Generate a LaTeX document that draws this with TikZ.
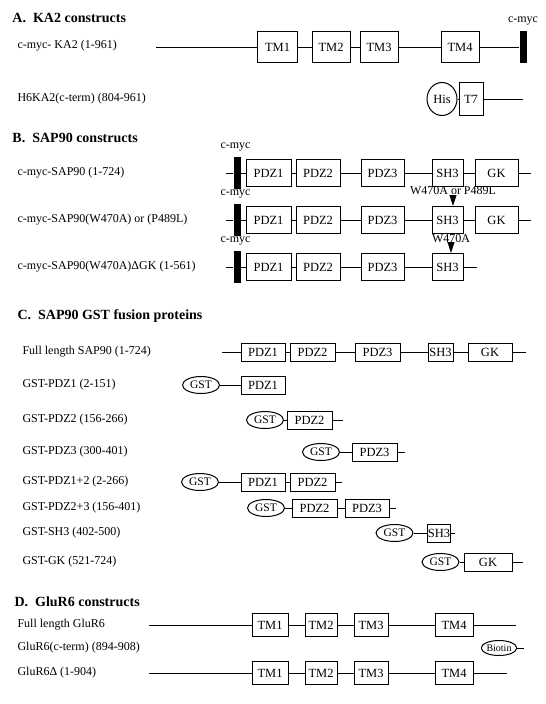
\documentclass[tikz,border=0pt]{standalone}
\usepackage{fontspec}
\setmainfont{Liberation Serif}
\usetikzlibrary{arrows.meta,shapes.geometric,positioning}

\begin{document}
\begin{tikzpicture}[x=1pt,y=-1pt,line width=1pt,
  ttl/.style={anchor=west,inner sep=0pt,font=\fontsize{14}{16}\selectfont\bfseries},
  lbl/.style={anchor=west,inner sep=0pt,font=\fontsize{12}{14}\selectfont},
  tag/.style={inner sep=0pt,font=\fontsize{12}{14}\selectfont},
  dom/.style={draw,fill=white,inner sep=0pt,font=\fontsize{12.5}{14}\selectfont},
  tmbox/.style={dom,minimum height=31pt},
  sapbox/.style={dom,minimum height=27pt},
  gstbox/.style={dom,minimum height=18pt},
  glubox/.style={dom,minimum height=23pt},
  tagbar/.style={fill=black,inner sep=0pt,minimum width=7pt,minimum height=32pt},
  gst/.style={draw,fill=white,ellipse,inner sep=0pt,minimum width=37pt,minimum height=17pt,font=\fontsize{11.5}{13}\selectfont},
  mutarrow/.style={-{Triangle[length=11pt,width=7pt]}}]
  \fill[white] (0,0) rectangle (546,704);
  \useasboundingbox (0,0) rectangle (546,704);

  % A. KA2 constructs
  \node[ttl] (ta) at (12,18) {A.\ \ KA2 constructs};
  \node[lbl] (la1) at (17,46) {c-myc- KA2 (1-961)};
  \node[lbl] (la2) at (17,99) {H6KA2(c-term) (804-961)};
  \coordinate (a1s) at (156,47);
  \node[tmbox,minimum width=40pt] (a1tm1) at (277.5,47) {TM1};
  \node[tmbox,minimum width=38pt] (a1tm2) at (331,47) {TM2};
  \node[tmbox,minimum width=38pt] (a1tm3) at (379,47) {TM3};
  \node[tmbox,minimum width=38pt] (a1tm4) at (460,47) {TM4};
  \node[tagbar] (a1myc) at (523,47) {};
  \node[tag,above=5pt of a1myc.north] (a1myclbl) {c-myc};
  \draw (a1s) -- (a1tm1) -- (a1tm2) -- (a1tm3) -- (a1tm4) -- (a1myc);
  % His tag and T7
  \node[draw,fill=white,ellipse,inner sep=0pt,minimum width=30pt,minimum height=33pt,
        font=\fontsize{12.5}{14}\selectfont] (a2his) at (442,99) {His};
  \node[dom,minimum width=24pt,minimum height=33pt] (a2t7) at (471,99) {T7};
  \coordinate (a2e) at (523,99);
  \draw (a2his) -- (a2t7) -- (a2e);

  % B. SAP90 constructs
  \node[ttl] (tb) at (12,138) {B.\ \ SAP90 constructs};
  \node[lbl] (lb1) at (17,173) {c-myc-SAP90 (1-724)};
  \node[lbl] (lb2) at (17,220) {c-myc-SAP90(W470A) or (P489L)};
  \node[lbl] (lb3) at (17,267) {c-myc-SAP90(W470A)ΔGK (1-561)};
  \foreach \r/\y in {1/173,2/220,3/267}{
    \coordinate (b\r s) at (226,\y);
    \node[tagbar] (b\r myc) at (237,\y) {};
    \node[tag,anchor=south west] (b\r myclbl) at ([xshift=-13pt,yshift=5pt]b\r myc.north west) {c-myc};
    \node[sapbox,minimum width=45pt] (b\r pdz1) at (268.5,\y) {PDZ1};
    \node[sapbox,minimum width=44pt] (b\r pdz2) at (318,\y) {PDZ2};
    \node[sapbox,minimum width=43pt] (b\r pdz3) at (382.5,\y) {PDZ3};
    \node[sapbox,minimum width=31pt] (b\r sh3) at (447.5,\y) {SH3};
  }
  \foreach \r/\y in {1/173,2/220}{
    \node[sapbox,minimum width=43pt] (b\r gk) at (496.5,\y) {GK};
    \coordinate (b\r e) at (531,\y);
    \draw (b\r s) -- (b\r myc) -- (b\r pdz1) -- (b\r pdz2) -- (b\r pdz3) -- (b\r sh3) -- (b\r gk) -- (b\r e);
  }
  \coordinate (b3e) at (477,267);
  \draw (b3s) -- (b3myc) -- (b3pdz1) -- (b3pdz2) -- (b3pdz3) -- (b3sh3) -- (b3e);
  % point mutations in SH3
  \node[tag] (mut2) at (453,191) {W470A or P489L};
  \node[tag] (mut3) at (451,239) {W470A};
  \draw[mutarrow] (mut2.south) -- (mut2.south |- b2sh3.north);
  \draw[mutarrow] (mut3.south) -- (mut3.south |- b3sh3.north);

  % C. SAP90 GST fusion proteins
  \node[ttl] (tc) at (17,316) {C.\ \ SAP90 GST fusion proteins};
  \node[lbl] (lc1) at (22,352) {Full length SAP90 (1-724)};
  \node[lbl] (lc2) at (22,385) {GST-PDZ1 (2-151)};
  \node[lbl] (lc3) at (22,420) {GST-PDZ2 (156-266)};
  \node[lbl] (lc4) at (22,452) {GST-PDZ3 (300-401)};
  \node[lbl] (lc5) at (22,482) {GST-PDZ1+2 (2-266)};
  \node[lbl] (lc6) at (22,508) {GST-PDZ2+3 (156-401)};
  \node[lbl] (lc7) at (22,533) {GST-SH3 (402-500)};
  \node[lbl] (lc8) at (22,562) {GST-GK (521-724)};
  % full length
  \coordinate (c1s) at (222,352);
  \node[gstbox,minimum width=44pt] (c1pdz1) at (263,352) {PDZ1};
  \node[gstbox,minimum width=45pt] (c1pdz2) at (312.5,352) {PDZ2};
  \node[gstbox,minimum width=45pt] (c1pdz3) at (377.5,352) {PDZ3};
  \node[gstbox,minimum width=25pt] (c1sh3) at (440.5,352) {SH3};
  \node[gstbox,minimum width=44pt] (c1gk) at (490,352) {GK};
  \coordinate (c1e) at (526,352);
  \draw (c1s) -- (c1pdz1) -- (c1pdz2) -- (c1pdz3) -- (c1sh3) -- (c1gk) -- (c1e);
  % GST-PDZ1
  \node[gst] (c2gst) at (201,385) {GST};
  \node[gstbox,minimum width=44pt] (c2pdz1) at (263,385) {PDZ1};
  \draw (c2gst) -- (c2pdz1);
  % GST-PDZ2
  \node[gst] (c3gst) at (265,420) {GST};
  \node[gstbox,minimum width=45pt] (c3pdz2) at (309.5,420) {PDZ2};
  \coordinate (c3e) at (343,420);
  \draw (c3gst) -- (c3pdz2) -- (c3e);
  % GST-PDZ3
  \node[gst] (c4gst) at (321,452) {GST};
  \node[gstbox,minimum width=45pt] (c4pdz3) at (374.5,452) {PDZ3};
  \coordinate (c4e) at (405,452);
  \draw (c4gst) -- (c4pdz3) -- (c4e);
  % GST-PDZ1+2
  \node[gst] (c5gst) at (200,482) {GST};
  \node[gstbox,minimum width=44pt] (c5pdz1) at (263,482) {PDZ1};
  \node[gstbox,minimum width=45pt] (c5pdz2) at (312.5,482) {PDZ2};
  \coordinate (c5e) at (342,482);
  \draw (c5gst) -- (c5pdz1) -- (c5pdz2) -- (c5e);
  % GST-PDZ2+3
  \node[gst] (c6gst) at (266,508) {GST};
  \node[gstbox,minimum width=45pt] (c6pdz2) at (314.5,508) {PDZ2};
  \node[gstbox,minimum width=44pt] (c6pdz3) at (367,508) {PDZ3};
  \coordinate (c6e) at (396,508);
  \draw (c6gst) -- (c6pdz2) -- (c6pdz3) -- (c6e);
  % GST-SH3
  \node[gst] (c7gst) at (394.5,533) {GST};
  \node[gstbox,minimum width=22pt] (c7sh3) at (439,533) {SH3};
  \coordinate (c7e) at (455,533);
  \draw (c7gst) -- (c7sh3) -- (c7e);
  % GST-GK
  \node[gst] (c8gst) at (440.5,562) {GST};
  \node[gstbox,minimum width=48pt] (c8gk) at (488,562) {GK};
  \coordinate (c8e) at (523,562);
  \draw (c8gst) -- (c8gk) -- (c8e);

  % D. GluR6 constructs
  \node[ttl] (td) at (14,602) {D.\ \ GluR6 constructs};
  \node[lbl] (ld1) at (17,625) {Full length GluR6};
  \node[lbl] (ld2) at (17,648) {GluR6(c-term) (894-908)};
  \node[lbl] (ld3) at (17,673) {GluR6Δ (1-904)};
  \foreach \r/\y/\e in {1/625/516,3/673/507}{
    \coordinate (d\r s) at (149,\y);
    \node[glubox,minimum width=36pt] (d\r tm1) at (270,\y) {TM1};
    \node[glubox,minimum width=32pt] (d\r tm2) at (321,\y) {TM2};
    \node[glubox,minimum width=34pt] (d\r tm3) at (371,\y) {TM3};
    \node[glubox,minimum width=38pt] (d\r tm4) at (454,\y) {TM4};
    \coordinate (d\r e) at (\e,\y);
    \draw (d\r s) -- (d\r tm1) -- (d\r tm2) -- (d\r tm3) -- (d\r tm4) -- (d\r e);
  }
  % biotinylated peptide
  \node[gst,minimum width=31pt,minimum height=15pt,font=\fontsize{10}{12}\selectfont] (d2bio) at (499,648) {Biotin};
  \coordinate (d2e) at (524,648);
  \draw (d2bio) -- (d2e);
\end{tikzpicture}
\end{document}
